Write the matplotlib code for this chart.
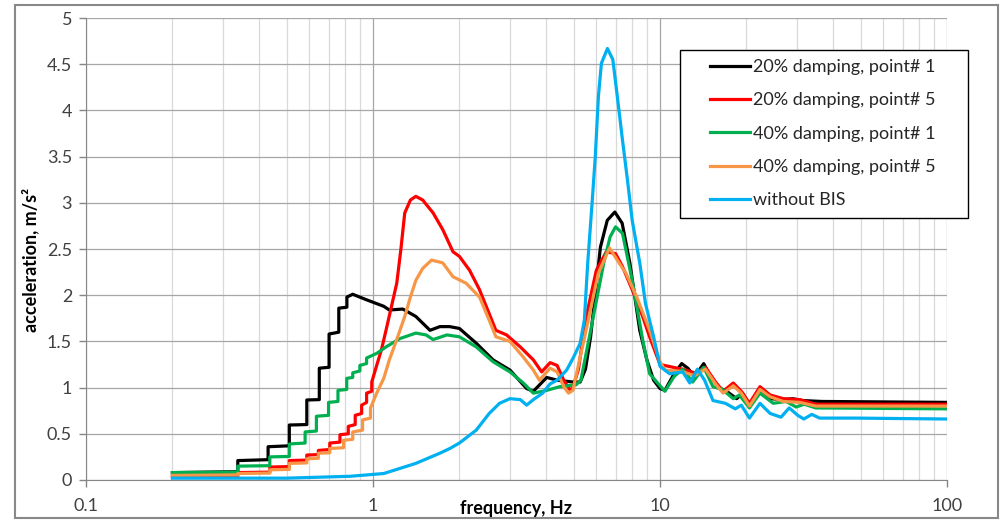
import numpy as np
import matplotlib
matplotlib.use("Agg")
import matplotlib.pyplot as plt
from matplotlib.patches import Rectangle
from matplotlib.ticker import LogLocator, NullFormatter

# values (frequency in Hz, acceleration in m/s^2)
black_f = [0.2, 0.338, 0.338, 0.431, 0.431, 0.511, 0.511, 0.588, 0.588, 0.650, 0.650,
           0.703, 0.703, 0.760, 0.760, 0.811, 0.811, 0.85, 0.95, 1.09, 1.14, 1.27, 1.41,
           1.58, 1.71, 1.85, 2.0, 2.29, 2.62, 3.0, 3.43, 3.62, 4.03, 4.38, 5.0, 5.27, 5.5,
           5.73, 6.2, 6.55, 6.96, 7.38, 7.85, 8.5, 9.0, 9.5, 10.0, 10.4, 11.2, 11.9, 12.5,
           13.2, 14.2, 15.0, 16.2, 16.9, 18.5, 19.4, 20.5, 22.3, 24.2, 26.9, 29.0, 31.3,
           36.6, 100]
black_a = [0.08, 0.09, 0.21, 0.22, 0.36, 0.37, 0.595, 0.60, 0.866, 0.87, 1.21,
           1.22, 1.58, 1.60, 1.86, 1.87, 1.98, 2.01, 1.95, 1.88, 1.84, 1.85, 1.77,
           1.62, 1.66, 1.66, 1.64, 1.48, 1.30, 1.19, 0.99, 0.96, 1.11, 1.08, 1.06, 1.06, 1.2,
           1.55, 2.52, 2.81, 2.90, 2.78, 2.35, 1.62, 1.3, 1.08, 0.99, 0.97, 1.15, 1.26, 1.21,
           1.12, 1.26, 1.12, 0.99, 0.97, 0.88, 0.94, 0.81, 0.97, 0.88, 0.87, 0.88, 0.86,
           0.85, 0.84]

red_f = [0.2, 0.338, 0.338, 0.437, 0.437, 0.511, 0.511, 0.588, 0.588, 0.645, 0.645,
         0.707, 0.707, 0.767, 0.767, 0.82, 0.82, 0.867, 0.867, 0.913, 0.913, 0.95, 0.95,
         0.99, 0.99, 1.03, 1.07, 1.11, 1.16, 1.21, 1.25, 1.29, 1.35, 1.41, 1.49, 1.62,
         1.75, 1.90, 2.0, 2.17, 2.35, 2.54, 2.68, 2.92, 3.26, 3.62, 3.87, 4.14, 4.38, 4.62,
         4.87, 4.97, 5.2, 5.5, 6.0, 6.5, 7.0, 7.4, 8.0, 8.7, 9.2, 10.0, 11.5, 12.0, 13.2,
         14.4, 15.7, 16.6, 18.0, 19.2, 20.5, 22.3, 24.2, 26.9, 30.7, 34.9, 100]
red_a = [0.04, 0.045, 0.08, 0.085, 0.14, 0.145, 0.21, 0.215, 0.27, 0.275, 0.32,
         0.33, 0.40, 0.41, 0.49, 0.50, 0.58, 0.60, 0.70, 0.72, 0.81, 0.84, 0.94,
         0.96, 1.06, 1.24, 1.41, 1.62, 1.88, 2.13, 2.49, 2.89, 3.03, 3.07, 3.03, 2.89,
         2.71, 2.47, 2.42, 2.27, 2.06, 1.80, 1.62, 1.57, 1.44, 1.30, 1.17, 1.27, 1.24, 1.08,
         0.97, 1.0, 1.2, 1.73, 2.27, 2.47, 2.45, 2.31, 2.06, 1.77, 1.55, 1.25, 1.21, 1.20, 1.16,
         1.22, 1.05, 0.96, 1.05, 0.96, 0.83, 1.01, 0.92, 0.88, 0.87, 0.82, 0.82]

green_f = [0.2, 0.338, 0.338, 0.437, 0.437, 0.511, 0.511, 0.58, 0.58, 0.635, 0.635,
           0.70, 0.70, 0.755, 0.755, 0.81, 0.81, 0.85, 0.85, 0.90, 0.90, 0.95, 0.95, 1.03,
           1.11, 1.24, 1.41, 1.53, 1.62, 1.81, 2.0, 2.29, 2.62, 3.0, 3.34, 3.62, 4.03, 4.47,
           5.1, 5.3, 5.8, 6.37, 6.7, 7.0, 7.4, 8.0, 8.7, 9.2, 10.4, 11.2, 12.0, 13.0, 14.2,
           15.3, 16.5, 18.0, 18.9, 20.5, 22.3, 24.8, 27.5, 29.8, 31.8, 34.9, 100]
green_a = [0.08, 0.085, 0.15, 0.155, 0.25, 0.255, 0.39, 0.40, 0.52, 0.53, 0.69,
           0.70, 0.84, 0.85, 0.97, 0.98, 1.10, 1.11, 1.16, 1.18, 1.24, 1.26, 1.32, 1.37,
           1.44, 1.53, 1.59, 1.57, 1.52, 1.57, 1.55, 1.44, 1.28, 1.17, 1.05, 0.94, 0.97, 1.01,
           1.03, 1.08, 1.70, 2.35, 2.63, 2.74, 2.67, 2.16, 1.52, 1.15, 0.96, 1.12, 1.20, 1.06, 1.22,
           1.01, 0.98, 0.88, 0.92, 0.78, 0.94, 0.83, 0.85, 0.79, 0.82, 0.78, 0.77]

orange_f = [0.2, 0.338, 0.338, 0.437, 0.437, 0.511, 0.511, 0.588, 0.588, 0.645, 0.645,
            0.707, 0.707, 0.79, 0.79, 0.85, 0.85, 0.92, 0.92, 0.98, 0.98, 1.03, 1.09, 1.14,
            1.21, 1.29, 1.35, 1.41, 1.49, 1.60, 1.75, 1.90, 2.11, 2.35, 2.54, 2.68, 3.0, 3.34,
            3.62, 3.8, 4.14, 4.38, 4.62, 4.8, 4.97, 5.5, 6.1, 6.67, 7.2, 7.6, 8.3, 9.2, 10.0,
            10.4, 11.5, 12.0, 13.2, 14.4, 15.7, 16.6, 18.0, 19.2, 20.5, 22.3, 24.2, 26.9,
            30.7, 34.9, 100]
orange_a = [0.05, 0.055, 0.07, 0.075, 0.11, 0.115, 0.18, 0.185, 0.23, 0.235, 0.29,
            0.295, 0.34, 0.35, 0.43, 0.44, 0.52, 0.54, 0.65, 0.67, 0.78, 0.94, 1.10, 1.30,
            1.52, 1.77, 1.98, 2.16, 2.29, 2.38, 2.35, 2.20, 2.13, 1.98, 1.73, 1.55, 1.50, 1.33,
            1.19, 1.08, 1.21, 1.17, 1.01, 0.94, 0.97, 1.59, 2.24, 2.51, 2.35, 2.24, 1.98, 1.62, 1.28,
            1.19, 1.18, 1.17, 1.13, 1.20, 1.03, 0.94, 1.02, 0.94, 0.80, 0.98, 0.90, 0.85,
            0.84, 0.80, 0.80]

blue_f = [0.2, 0.5, 0.83, 1.09, 1.41, 1.71, 1.85, 2.0, 2.29, 2.54, 2.76, 3.0, 3.26, 3.43,
          3.62, 3.9, 4.14, 4.38, 4.73, 5.0, 5.27, 5.45, 5.6, 5.8, 5.95, 6.1, 6.25, 6.56, 6.85,
          7.1, 7.4, 7.7, 8.0, 8.5, 8.9, 9.5, 10.0, 10.8, 12.0, 12.7, 13.5, 14.3, 15.3, 16.9,
          18.3, 19.2, 20.5, 22.3, 24.2, 26.4, 28.2, 30.2, 31.7, 33.8, 36.0, 48.0, 100]
blue_a = [0.02, 0.02, 0.04, 0.07, 0.18, 0.29, 0.34, 0.40, 0.54, 0.72, 0.83, 0.88, 0.87, 0.81,
          0.87, 0.94, 1.04, 1.08, 1.19, 1.33, 1.48, 1.73, 2.35, 3.0, 3.5, 4.15, 4.51, 4.67, 4.55,
          4.15, 3.68, 3.25, 2.81, 2.35, 1.91, 1.55, 1.23, 1.15, 1.17, 1.05, 1.20, 1.08, 0.86, 0.83,
          0.77, 0.81, 0.67, 0.83, 0.72, 0.68, 0.78, 0.70, 0.66, 0.71, 0.67, 0.67, 0.66]

labels = ["20% damping, point# 1", "20% damping, point# 5", "40% damping, point# 1",
          "40% damping, point# 5", "without BIS"]
colors = ["#000000", "#ff0000", "#00b050", "#f79646", "#00b0f0"]
x_ticks = [0.1, 1, 10, 100]
x_tick_labels = ["0.1", "1", "10", "100"]
y_ticks = [0, 0.5, 1, 1.5, 2, 2.5, 3, 3.5, 4, 4.5, 5]
y_tick_labels = ["0", "0.5", "1", "1.5", "2", "2.5", "3", "3.5", "4", "4.5", "5"]

plt.rcParams["font.family"] = ["Lato", "DejaVu Sans"]

W, H = 1006, 520
fig = plt.figure(figsize=(W / 100, H / 100), dpi=100)
ax = fig.add_axes([86 / W, 40 / H, 861 / W, 462 / H])

data = [(black_f, black_a), (red_f, red_a), (green_f, green_a),
        (orange_f, orange_a), (blue_f, blue_a)]
for (f, a), lab, col in zip(data, labels, colors):
    ax.plot(f, a, color=col, lw=2.3, label=lab, solid_joinstyle="round")

ax.set_xscale("log")
ax.set_xlim(0.1, 100)
ax.set_ylim(0, 5)
ax.set_xticks(x_ticks)
ax.set_xticklabels(x_tick_labels)
ax.xaxis.set_minor_locator(LogLocator(base=10, subs=np.arange(2, 10)))
ax.xaxis.set_minor_formatter(NullFormatter())
ax.set_yticks(y_ticks)
ax.set_yticklabels(y_tick_labels)

ax.tick_params(axis="x", which="minor", length=0)
ax.tick_params(axis="both", which="major", length=5, width=1, color="#868686",
               labelsize=13, labelcolor="#404040")
ax.tick_params(axis="x", which="major", pad=8)
ax.tick_params(axis="y", which="major", pad=5)

ax.grid(True, which="major", color="#a6a6a6", lw=0.9)
ax.grid(True, which="minor", axis="x", color="#d9d9d9", lw=0.9)
ax.set_axisbelow(True)
for s in ["top", "right"]:
    ax.spines[s].set_visible(False)
for s in ["left", "bottom"]:
    ax.spines[s].set_color("#868686")

ax.set_xlabel("frequency, Hz", fontsize=13, fontweight="bold")
ax.set_ylabel("acceleration, m/s²", fontsize=13, fontweight="bold")
ax.xaxis.set_label_coords(0.5, -0.043)
ax.yaxis.set_label_coords(-0.054, 0.476)

# legend box sits partly outside the plot area, like the original
fig.patches.append(Rectangle((680 / W, 1 - 218 / H), 288 / W, 168 / H,
                             transform=fig.transFigure, facecolor="white",
                             edgecolor="#000000", lw=1, zorder=5))
leg = fig.legend(loc="upper left", bbox_to_anchor=(710 / W, 1 - 59 / H),
                 frameon=False, borderpad=0, borderaxespad=0, handlelength=2.2,
                 handletextpad=0.17, labelspacing=0.96, fontsize=13)
for t in leg.get_texts():
    t.set_color("#262626")
leg.set_zorder(6)

# outer chart border
fig.patches.append(Rectangle((15 / W, 2 / H), 983 / W, 513 / H, transform=fig.transFigure,
                             facecolor="none", edgecolor="#888888", lw=1.5))

fig.savefig("out.png", dpi=100)
